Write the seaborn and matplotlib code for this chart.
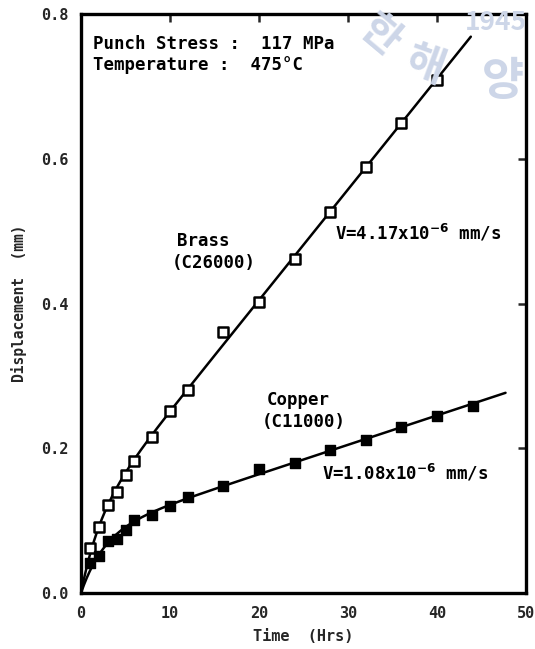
import numpy as np
import pandas as pd
import matplotlib
matplotlib.use("Agg")
import matplotlib.pyplot as plt
import seaborn as sns

# ---- data ----
brass_time = [1, 2, 3, 4, 5, 6, 8, 10, 12, 16, 20, 24, 28, 32, 36, 40]
brass_disp = [0.062, 0.091, 0.121, 0.140, 0.163, 0.182, 0.216, 0.252, 0.281,
              0.361, 0.402, 0.462, 0.526, 0.588, 0.650, 0.709]
copper_time = [1, 2, 3, 4, 5, 6, 8, 10, 12, 16, 20, 24, 28, 32, 36, 40, 44]
copper_disp = [0.041, 0.051, 0.072, 0.075, 0.087, 0.101, 0.108, 0.120, 0.133,
               0.148, 0.172, 0.180, 0.197, 0.212, 0.230, 0.245, 0.259]
brass_fit_end = 43.8
copper_fit_end = 47.7

x_ticks = [0, 10, 20, 30, 40, 50]
y_ticks = [0.0, 0.2, 0.4, 0.6, 0.8]
y_tick_labels = ["0.0", "0.2", "0.4", "0.6", "0.8"]


def fit_curve(t, y, t_end):
    t = np.asarray(t, float)
    y = np.asarray(y, float)
    best = None
    for tau in np.linspace(0.2, 12, 300):
        A = np.column_stack([1 - np.exp(-t / tau), t])
        coef, res, *_ = np.linalg.lstsq(A, y, rcond=None)
        err = np.sum((A @ coef - y) ** 2)
        if best is None or err < best[0]:
            best = (err, tau, coef)
    _, tau, (a, v) = best
    tt = np.linspace(0, t_end, 300)
    return tt, a * (1 - np.exp(-tt / tau)) + v * tt


sns.set_theme(style="white")
plt.rcParams["font.family"] = ["DejaVu Sans Mono", "DejaVu Sans"]
plt.rcParams["font.weight"] = "bold"

W, H = 535, 649
fig = plt.figure(figsize=(W / 100, H / 100), dpi=100)

# faint watermark seal (background, top right)
wm = "#cdd6e8"
wkw = dict(family=["Noto Sans CJK KR", "DejaVu Sans"], color=wm, zorder=0,
           ha="center", va="center", fontweight="bold")
fig.text(496 / W, 1 - 23 / H, "1945", fontsize=19, **wkw)
fig.text(503 / W, 1 - 82 / H, "양", fontsize=33, **wkw)
fig.text(425 / W, 1 - 66 / H, "해", fontsize=30, rotation=-20, **wkw)
fig.text(380 / W, 1 - 36 / H, "한", fontsize=30, rotation=-40, **wkw)

ax = fig.add_axes([81 / W, 1 - 593 / H, 445 / W, 579 / H])
ax.patch.set_alpha(0)

bt, by = fit_curve(brass_time, brass_disp, brass_fit_end)
ct, cy = fit_curve(copper_time, copper_disp, copper_fit_end)

sns.lineplot(x=bt, y=by, ax=ax, color="black", lw=1.8, sort=False)
sns.lineplot(x=ct, y=cy, ax=ax, color="black", lw=1.8, sort=False)

sns.scatterplot(x=brass_time, y=brass_disp, ax=ax, marker="s", s=45,
                facecolor="white", edgecolor="black", linewidth=1.8, zorder=3)
sns.scatterplot(x=copper_time, y=copper_disp, ax=ax, marker="s", s=55,
                color="black", edgecolor="black", linewidth=1, zorder=3)

ax.set_xlim(0, 50)
ax.set_ylim(0, 0.8)
ax.set_xticks(x_ticks)
ax.set_yticks(y_ticks)
ax.set_yticklabels(y_tick_labels)
ax.tick_params(direction="in", length=6, width=1.8, top=True, right=True,
               labelsize=11, pad=9)
for lab in ax.get_xticklabels() + ax.get_yticklabels():
    lab.set_fontweight("bold")
for sp in ax.spines.values():
    sp.set_linewidth(2.4)
    sp.set_color("black")

ax.set_xlabel("Time  (Hrs)", fontsize=11, fontweight="bold", labelpad=6)
ax.set_ylabel("Displacement  (mm)", fontsize=10.5, fontweight="bold", labelpad=10)

tkw = dict(fontsize=12.5, fontweight="bold", color="black")
ax.text(1.35, 0.758, "Punch Stress :  117 MPa", va="center", ha="left", **tkw)
ax.text(1.35, 0.730, "Temperature :  475°C", va="center", ha="left", **tkw)
ax.text(10.8, 0.486, "Brass", va="center", ha="left", **tkw)
ax.text(10.2, 0.456, "(C26000)", va="center", ha="left", **tkw)
ax.text(28.5, 0.497, r"V=4.17x10$^{\mathbf{-6}}$ mm/s", va="center", ha="left", **tkw)
ax.text(20.9, 0.267, "Copper", va="center", ha="left", **tkw)
ax.text(20.3, 0.236, "(C11000)", va="center", ha="left", **tkw)
ax.text(27.1, 0.166, r"V=1.08x10$^{\mathbf{-6}}$ mm/s", va="center", ha="left", **tkw)

fig.savefig("out.png", dpi=100)
